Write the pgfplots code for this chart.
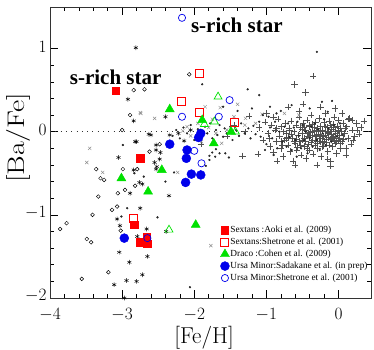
\documentclass[border=0pt]{standalone}
\usepackage{pgfplots}
\pgfplotsset{compat=1.18}
\usepackage{fontspec}
\newfontfamily\timesfont{Liberation Serif}
\definecolor{myred}{RGB}{255,0,0}
\definecolor{mygreen}{RGB}{0,225,0}
\definecolor{myblue}{RGB}{0,0,235}
\definecolor{plusgray}{RGB}{80,80,80}
\definecolor{crossgray}{RGB}{140,140,140}
\begin{document}
\begin{tikzpicture}
\begin{axis}[
  name=ax,
  width=321pt, height=291pt, scale only axis,
  xmin=-4, xmax=0.45, ymin=-2, ymax=1.5,
  xtick={-4,-3,-2,-1,0}, ytick={-2,-1,0,1},
  minor x tick num=4, minor y tick num=4,
  tick align=inside, tick pos=both,
  major tick length=8pt, minor tick length=4pt,
  every tick/.style={black, line width=0.5pt},
  axis line style={line width=0.6pt, draw=black!80},
  tick label style={font=\fontsize{16.5}{18}\selectfont},
  xticklabel style={yshift=-7pt},
  yticklabel style={yshift=2pt},
  xlabel={[Fe/H]}, ylabel={[Ba/Fe]},
  xlabel style={font=\fontsize{23}{26}\selectfont, at={(axis description cs:0.48,-0.097)}, anchor=north, inner sep=0pt},
  ylabel style={font=\fontsize{24}{28}\selectfont, at={(axis description cs:-0.06,0.55)}, anchor=south, inner sep=0pt, xscale=1.25},
  legend style={at={(axis cs:-1.64,-1.12)}, anchor=north west, draw=none, fill=none,
    font=\timesfont\fontsize{9.3}{10}\selectfont, row sep=2pt, inner sep=0pt,
    nodes={inner sep=1pt, anchor=west}},
  legend cell align=left,
  legend image code/.code={\draw[#1] plot coordinates {(0pt,0pt)};},
]
% zero line
\addplot[forget plot, line width=0.8pt, dash pattern=on 0.9pt off 4.4pt, black!80] coordinates {(-4,0) (0.45,0)};
% grey plus (disk stars)
\addplot[forget plot, only marks, mark=+, mark size=3.2pt, color=plusgray, line width=0.45pt] table {
x y
-1.10 0.05
-1.05 -0.10
-1.02 0.12
-0.98 -0.02
-0.95 -0.18
-0.93 0.08
-0.90 -0.25
-0.88 0.02
-0.86 -0.12
-0.84 0.15
-0.82 -0.05
-0.80 -0.20
-0.79 0.06
-0.77 -0.30
-0.75 -0.10
-0.74 0.10
-0.72 -0.02
-0.70 -0.16
-0.69 0.04
-0.67 -0.24
-0.66 0.13
-0.64 -0.08
-0.63 -0.35
-0.62 0.00
-0.60 -0.14
-0.59 0.08
-0.58 -0.22
-0.56 -0.04
-0.55 0.18
-0.54 -0.12
-0.53 0.05
-0.52 -0.28
-0.50 -0.02
-0.49 0.10
-0.48 -0.18
-0.47 -0.08
-0.46 0.02
-0.45 -0.32
-0.44 0.14
-0.43 -0.05
-0.42 -0.15
-0.41 0.06
-0.40 -0.22
-0.39 -0.01
-0.38 0.20
-0.37 -0.10
-0.36 0.09
-0.35 -0.27
-0.34 0.00
-0.33 -0.16
-0.32 0.12
-0.31 -0.06
-0.30 0.04
-0.29 -0.20
-0.28 -0.03
-0.27 0.16
-0.26 -0.12
-0.25 0.07
-0.24 -0.30
-0.23 -0.08
-0.22 0.02
-0.21 -0.17
-0.20 0.11
-0.19 -0.04
-0.18 0.22
-0.17 -0.13
-0.16 0.05
-0.15 -0.24
-0.14 -0.02
-0.13 0.13
-0.12 -0.09
-0.11 -0.36
-0.10 0.03
-0.09 -0.18
-0.08 0.09
-0.07 -0.06
-0.06 0.18
-0.05 -0.14
-0.04 0.01
-0.03 -0.26
-0.02 0.07
-0.01 -0.10
0.00 0.14
0.01 -0.04
0.02 -0.20
0.03 0.04
0.05 -0.12
0.06 0.10
0.08 -0.02
0.10 -0.28
0.11 0.06
0.13 -0.08
0.15 0.16
0.17 -0.15
0.19 0.02
0.22 -0.06
0.25 0.10
0.28 -0.03
0.35 0.13
0.19 0.14
0.14 0.15
-0.35 0.67
-0.61 0.57
-0.46 0.47
-0.49 0.33
-0.11 -0.41
-1.12 -0.27
-1.33 -0.29
-1.24 0.19
-1.91 -0.15
-1.55 -0.05
-1.30 0.00
-1.45 0.08
-0.70 0.30
-0.25 0.30
-0.05 0.28
0.05 0.22
-0.60 -0.40
-0.85 -0.35
-0.30 -0.40
-1.00 0.22
-0.55 0.25
-0.15 -0.33
0.10 -0.20
-0.90 0.18
-0.58 -0.09
-0.53 -0.16
-0.51 0.03
-0.46 -0.12
-0.44 -0.20
-0.42 -0.02
-0.40 0.08
-0.38 -0.13
-0.36 -0.04
-0.33 -0.10
-0.31 0.02
-0.29 -0.14
-0.27 -0.08
-0.25 0.00
-0.23 -0.18
-0.21 -0.05
-0.19 0.06
-0.17 -0.09
-0.15 -0.01
-0.13 -0.16
-0.11 0.00
-0.09 -0.08
-0.07 0.05
-0.05 -0.05
-0.03 -0.12
-0.01 0.02
0.01 -0.08
0.03 -0.14
-0.65 -0.03
-0.62 -0.12
-0.68 0.02
-0.72 -0.08
-0.76 0.00
-0.80 -0.12
-0.48 0.05
-0.34 0.05
-0.20 -0.11
-0.12 0.08
0.04 0.00
0.07 -0.09
-0.57 -0.19
-0.50 -0.10
-0.41 -0.07
-0.37 0.01
-0.30 -0.12
-0.26 -0.04
-0.22 -0.13
-0.18 0.00
-0.14 -0.07
-0.10 -0.03
-0.06 -0.10
-0.02 -0.02
0.09 0.04
0.20 -0.10
0.26 0.02
0.31 0.05
-0.70 -0.07
-0.78 -0.16
-0.86 0.04
-0.96 -0.08
};
% grey crosses
\addplot[forget plot, only marks, mark=x, mark size=2.3pt, color=crossgray, line width=0.45pt] table {
x y
-1.64 0.29
-1.40 0.33
-1.45 0.18
-1.29 0.16
-1.06 0.21
-1.62 -0.14
-1.55 0.02
-1.80 0.05
-1.95 0.10
-2.05 -0.05
-1.75 0.15
-1.30 0.08
-1.15 0.10
-1.90 -0.12
-2.16 0.01
-2.23 -0.49
-1.77 -1.37
-3.45 -0.20
-3.49 -0.37
-2.74 0.22
-3.27 -0.49
-2.55 0.16
-2.75 0.23
-1.85 0.30
-0.75 0.22
-0.55 0.20
-2.10 0.06
-1.70 -0.02
};
% black dots
\addplot[forget plot, only marks, mark=*, mark size=0.9pt, color=black!85] table {
x y
-2.30 -0.05
-2.25 0.02
-2.20 -0.08
-2.15 0.05
-2.10 -0.02
-2.05 0.08
-2.00 -0.10
-1.95 0.03
-1.90 -0.05
-1.85 0.06
-1.82 -0.02
-1.78 0.10
-1.75 -0.08
-1.70 0.02
-1.68 -0.04
-1.65 0.08
-1.60 -0.06
-1.58 0.04
-1.55 -0.02
-1.50 0.06
-1.47 -0.10
-1.42 0.02
-1.38 -0.05
-1.35 0.10
-1.30 -0.02
-1.25 0.04
-1.22 -0.08
-1.18 0.07
-1.15 -0.03
-1.10 0.12
-1.08 -0.06
-1.79 -0.29
-1.75 -0.25
-1.70 -0.21
-1.52 -0.31
-1.26 0.51
-1.10 0.44
-0.23 0.36
-0.09 0.37
-0.30 0.96
-1.89 0.57
-1.71 -0.30
-1.65 -0.26
-1.57 -0.26
-1.79 -0.34
-1.84 -0.41
-2.06 -1.87
-2.51 -1.03
-2.40 -0.60
-2.28 -0.49
-2.99 -0.16
-2.83 -0.50
-2.70 -0.54
-2.93 -0.92
-3.01 -1.02
-1.60 0.30
-1.40 0.25
-1.20 0.28
-0.95 0.30
-0.80 0.25
-0.65 0.32
-0.40 0.28
-0.15 0.24
-1.00 -0.15
-0.95 0.05
-0.92 -0.08
-0.88 0.12
-0.85 -0.20
-0.82 0.00
-0.78 -0.12
-0.75 0.06
-0.72 -0.18
-0.70 0.10
-0.68 -0.06
-0.65 -0.22
-0.62 0.05
-0.60 -0.10
-0.57 0.12
-0.55 -0.05
-0.52 -0.20
-0.50 0.08
-0.48 -0.10
-0.45 0.00
-0.43 -0.26
-0.40 -0.08
-0.38 0.06
-0.36 -0.18
-0.33 0.10
-0.30 -0.10
-0.28 0.03
-0.26 -0.22
-0.22 -0.02
-0.20 0.15
-0.18 -0.16
-0.14 0.04
-0.10 -0.12
-0.06 0.08
-0.02 -0.06
0.02 0.10
0.06 -0.04
-0.90 -0.28
-0.97 0.18
-1.05 0.20
-1.02 -0.22
-0.58 -0.30
-0.86 0.22
};
% small open circles
\addplot[forget plot, only marks, mark=o, mark size=1.9pt, color=black, line width=0.45pt] table {
x y
-2.89 0.20
-3.00 0.02
-2.99 -0.45
-3.36 -0.45
-3.30 -0.56
-3.25 -0.58
-3.33 -0.78
-3.06 -0.74
-2.96 -0.70
-2.79 -0.45
-2.82 -0.65
-3.14 -0.94
-3.07 -0.90
-3.41 -1.00
-3.77 -1.10
-3.86 -1.17
-3.02 -1.19
-3.49 -1.29
-3.43 -1.33
-3.19 -1.69
-3.56 -1.77
-2.84 0.50
-2.69 0.51
-2.07 0.69
-2.62 -0.24
-2.48 -0.15
};
% asterisks
\addplot[forget plot, only marks, mark=asterisk, mark size=2.3pt, color=black, line width=0.45pt] table {
x y
-2.81 1.01
-2.92 0.39
-2.84 0.13
-2.40 0.18
-2.80 -0.12
-3.05 -0.31
-2.60 -0.04
-2.53 -0.16
-2.47 -0.25
-2.55 -0.37
-2.53 -0.45
-2.89 -0.74
-2.76 -0.61
-2.75 -0.92
-2.35 -0.77
-2.72 -0.63
-3.07 -1.05
-3.03 -1.13
-2.79 -1.26
-2.66 -1.17
-2.39 -1.20
-3.04 -1.45
-2.65 -1.50
-2.90 -1.57
-2.72 -1.72
-3.11 -1.84
-2.94 -1.79
-2.80 -1.80
-2.97 -2.00
-2.34 -0.04
-2.14 -0.11
-2.82 -0.12
-2.63 -0.03
-2.53 -0.22
-2.48 -0.33
-2.52 -0.42
-2.84 -0.46
-2.22 -0.02
-2.05 0.02
};
% Draco Shetrone (open triangles, not in legend)
\addplot[forget plot, only marks, mark=triangle, mark size=4.6pt, draw=mygreen, color=mygreen, mark options={draw=mygreen}, line width=0.7pt] table {
x y
-1.67 0.42
-1.86 0.09
-1.72 0.12
-1.43 0.00
-2.35 -1.18
};
% Sextans Aoki
\addplot[only marks, mark=square*, mark size=3.7pt, color=myred, fill=myred] table {
x y
-3.09 0.49
-2.75 -0.32
-2.83 -1.12
-2.66 -1.27
-2.76 -1.33
-2.65 -1.35
};
\addlegendentry{Sextans :Aoki et al. (2009)}
% Sextans Shetrone
\addplot[only marks, mark=square*, mark size=4.0pt, color=myred, mark options={draw=myred, fill=white, fill opacity=0}, line width=0.9pt] table {
x y
-1.93 0.70
-2.18 0.36
-1.93 0.23
-1.445 0.11
-2.85 -1.04
};
\addlegendentry{Sextans:Shetrone et al. (2001)}
% Draco Cohen
\addplot[only marks, mark=triangle*, mark size=5.2pt, color=mygreen, fill=mygreen] table {
x y
-2.34 0.27
-1.89 0.14
-1.73 -0.14
-3.01 -0.56
-2.64 -0.72
-2.45 -0.46
-1.98 -1.12
-1.49 0.00
};
\addlegendentry{Draco :Cohen et al. (2009)}
% UMi Sadakane
\addplot[only marks, mark=*, mark size=4.5pt, color=myblue, fill=myblue] table {
x y
-2.34 -0.15
-2.10 -0.22
-2.11 -0.32
-1.91 -0.02
-1.94 -0.07
-2.04 -0.51
-1.91 -0.52
-2.12 -0.61
-2.97 -1.28
};
\addlegendentry{Ursa Minor:Sadakane et al. (in prep)}
% UMi Shetrone
\addplot[only marks, mark=o, mark size=3.6pt, draw=myblue, color=myblue, mark options={draw=myblue, fill=none}, line width=0.7pt] table {
x y
-2.17 1.37
-2.17 0.18
-1.90 -0.38
-1.51 0.38
-1.66 0.18
-2.00 -0.23
-2.65 -1.28
};
\addlegendentry{Ursa Minor:Shetrone et al. (2001)}
\node[font=\timesfont\bfseries\fontsize{21}{24}\selectfont, inner sep=0pt] at (axis cs:-3.09,0.656) {s-rich star};
\node[font=\timesfont\bfseries\fontsize{21}{24}\selectfont, inner sep=0pt] at (axis cs:-1.41,1.28) {s-rich star};
\end{axis}
\path ([shift={(-50pt,-50pt)}]ax.south west) rectangle ([shift={(3pt,7pt)}]ax.north east);
\end{tikzpicture}
\end{document}
